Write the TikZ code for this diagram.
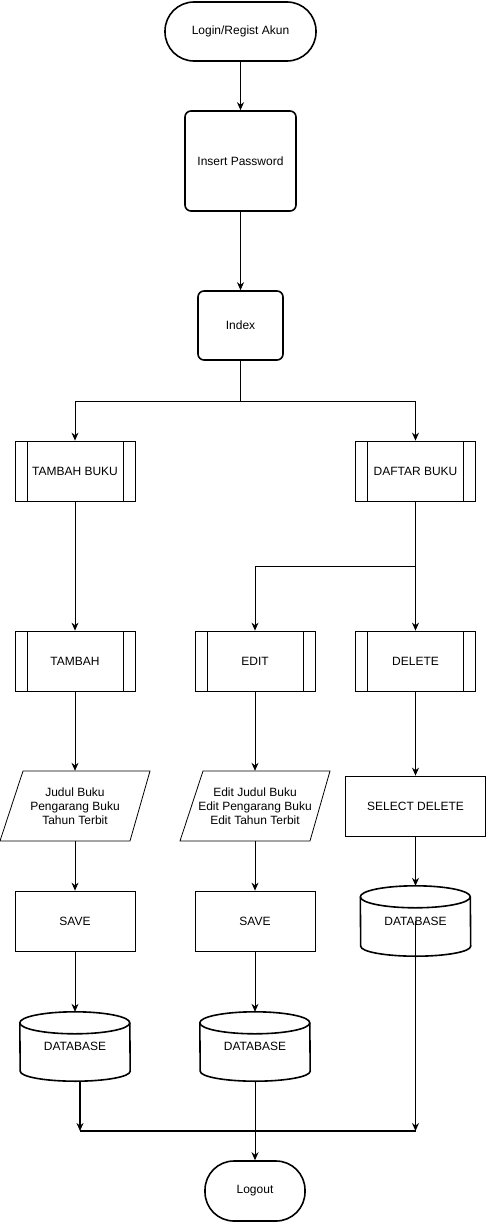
\documentclass[tikz,border=0pt]{standalone}
\usepackage{fontspec}
\setmainfont{Liberation Sans}
\usetikzlibrary{arrows.meta}
\begin{document}
\begin{tikzpicture}[x=1pt,y=1pt,
  every node/.style={font=\fontsize{12}{14}\selectfont, align=center, inner sep=0pt},
  term/.style={draw, line width=1.6pt, rounded corners=29pt},
  rbox/.style={draw, line width=1.6pt, rounded corners=6pt},
  sub/.style={draw, line width=0.8pt, minimum width=120, minimum height=60,
    path picture={\draw[line width=0.8pt] ([xshift=12]path picture bounding box.north west) -- ([xshift=12]path picture bounding box.south west);
                  \draw[line width=0.8pt] ([xshift=-12]path picture bounding box.north east) -- ([xshift=-12]path picture bounding box.south east);}},
  pbox/.style={draw, line width=0.8pt},
  ghost/.style={minimum width=130, minimum height=70},
  dbn/.style={minimum width=110, minimum height=70},
  arr/.style={-{Stealth[length=8pt,width=7pt]}, line width=0.8pt},
  thk/.style={line width=1.6pt}
]
\useasboundingbox (0,0) rectangle (487,-1223);
\newcommand\dbdraw[1]{%
  \draw[line width=1.6pt] ([yshift=-11]#1.north west) arc[start angle=180,end angle=0,x radius=55,y radius=11]
    -- ([yshift=10]#1.south east) arc[start angle=0,end angle=-180,x radius=55,y radius=10] -- cycle;
  \draw[line width=1.6pt] ([yshift=-11]#1.north west) arc[start angle=180,end angle=360,x radius=55,y radius=11];}

% nodes
\node[term, minimum width=151, minimum height=59] (login) at (240.5,-31.5) {Login/Regist Akun};
\node[rbox, minimum width=111, minimum height=100] (pass) at (240.5,-161) {Insert Password};
\node[rbox, minimum width=85, minimum height=69] (index) at (240.5,-325.5) {Index};
\node[sub] (tb) at (75,-471) {TAMBAH BUKU};
\node[sub] (daftar) at (415.5,-471) {DAFTAR BUKU};
\node[sub] (tambah) at (75,-661) {TAMBAH};
\node[sub] (edit) at (255,-661) {EDIT};
\node[sub] (delete) at (415.5,-661) {DELETE};

\node[ghost] (in1) at (75,-806) {Judul Buku\\Pengarang Buku\\Tahun Terbit};
\draw[line width=0.8pt] (0,-841) -- (130,-841) -- (150,-771) -- (23,-771) -- cycle;
\node[ghost] (in2) at (255,-806) {Edit Judul Buku\\Edit Pengarang Buku\\Edit Tahun Terbit};
\draw[line width=0.8pt] (180,-841) -- (310,-841) -- (330,-771) -- (203,-771) -- cycle;
\node[pbox, minimum width=140, minimum height=60] (sel) at (415.5,-806) {SELECT DELETE};

\node[pbox, minimum width=120, minimum height=60] (save1) at (75,-921) {SAVE};
\node[pbox, minimum width=120, minimum height=60] (save2) at (255,-921) {SAVE};
\node[dbn] (db3) at (415.5,-921) {DATABASE};
\dbdraw{db3}
\node[dbn, minimum height=69] (db1) at (75,-1046.5) {DATABASE};
\dbdraw{db1}
\node[dbn, minimum height=69] (db2) at (255,-1046.5) {DATABASE};
\dbdraw{db2}
\node[term, minimum width=100, minimum height=60] (logout) at (255,-1191) {Logout};

% connectors
\draw[arr] (login.south) -- (pass.north);
\draw[arr] (pass.south) -- (index.north);
\coordinate (split) at (240.5,-401);
\draw[thk] (index.south) -- (split);
\draw[arr] (split) -| (tb.north);
\draw[arr] (split) -| (daftar.north);
\draw[arr] (tb.south) -- (tambah.north);
\draw[arr] (daftar.south) -- (delete.north);
\coordinate (br) at (415.5,-566);
\draw[arr] (br) -| (edit.north);
\draw[arr] (tambah.south) -- (in1.north);
\draw[arr] (edit.south) -- (in2.north);
\draw[arr] (delete.south) -- (sel.north);
\draw[arr] (in1.south) -- (save1.north);
\draw[arr] (in2.south) -- (save2.north);
\draw[arr] (sel.south) -- (db3.north);
\draw[arr] (save1.south) -- (db1.north);
\draw[arr] (save2.south) -- (db2.north);
\coordinate (m1) at (80,-1131);
\coordinate (m3) at (415.5,-1131);
\draw[arr, line width=1.6pt] ([xshift=5]db1.south) -- (m1);
\draw[line width=1.2pt] (m1) -- (m3);
\draw[arr, line width=1.2pt] (db3.center) -- (m3);
\draw[arr] (db2.south) -- (logout.north);
\end{tikzpicture}
\end{document}
